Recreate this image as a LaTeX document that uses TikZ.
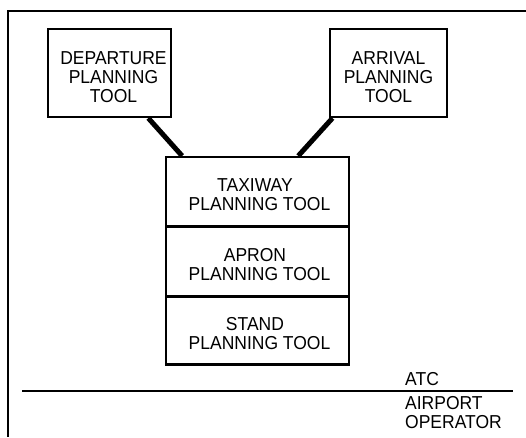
\documentclass[tikz,border=0pt]{standalone}
\usepackage{fontspec}
\setmainfont{Liberation Sans}
\usetikzlibrary{calc}
% tall lettering used for every label; baseline sits on the first line
\newcommand{\talltext}[2][c]{\scalebox{1}[1.07]{\begin{tabular}[t]{@{}#1@{}}#2\end{tabular}}}
\begin{document}
\begin{tikzpicture}[x=1pt,y=-1pt,
  tool/.style={draw, line width=2.2pt, inner sep=0pt, align=center,
    font=\fontsize{17.5}{17.8}\selectfont, text height=10pt, text depth=10pt},
  tripletool/.style={tool, text height=5pt, text depth=23pt},
  link/.style={line width=5pt},
  rule/.style={line width=2pt},
  side/.style={inner sep=0pt, anchor=base west,
    font=\fontsize{17.5}{17.8}\selectfont}]
  \useasboundingbox (0,0) rectangle (526,437);

  % outer frame: top and left edges
  \coordinate (ftl) at (7.5,11);
  \coordinate (ftr) at (526,11);
  \coordinate (fbl) at (7.5,437);
  \draw[rule] (ftr) -- (ftl) -- (fbl);

  % planning tools
  \node[tripletool, minimum width=123pt, minimum height=88pt] (dep) at (109.5,73)
    {\hspace*{8pt}\talltext{DEPARTURE\\PLANNING\\TOOL}};
  \node[tripletool, minimum width=117pt, minimum height=88pt] (arr) at (388.5,73)
    {\talltext{ARRIVAL\\PLANNING\\TOOL}};
  \node[tool, minimum width=183pt, minimum height=69pt] (taxi) at (257.5,191.5)
    {\hspace*{4pt}\talltext{TAXIWAY\hspace*{9pt}\\PLANNING TOOL}};
  \node[tool, minimum width=183pt, minimum height=69pt] (apron) at (257.5,261.5)
    {\hspace*{4pt}\talltext{APRON\hspace*{9pt}\\PLANNING TOOL}};
  \node[tool, minimum width=183pt, minimum height=68pt] (stand) at (257.5,330.5)
    {\hspace*{4pt}\talltext{STAND\hspace*{9pt}\\PLANNING TOOL}};

  % links to the taxiway tool
  \draw[link] ($(dep.south west)!0.81!(dep.south east)$)
    -- ($(taxi.north west)!0.093!(taxi.north east)$);
  \draw[link] ($(arr.south west)!0.03!(arr.south east)$)
    -- ($(taxi.north west)!0.72!(taxi.north east)$);

  % ATC / airport operator divide
  \coordinate (dl) at (22,391);
  \coordinate (dr) at (513,391);
  \draw[rule] (dl) -- (dr);
  \node[side] (atc) at (405,385) {\talltext[l]{ATC}};
  \node[side] (apt) at (405,409) {\talltext[l]{AIRPORT\\OPERATOR}};
\end{tikzpicture}
\end{document}
